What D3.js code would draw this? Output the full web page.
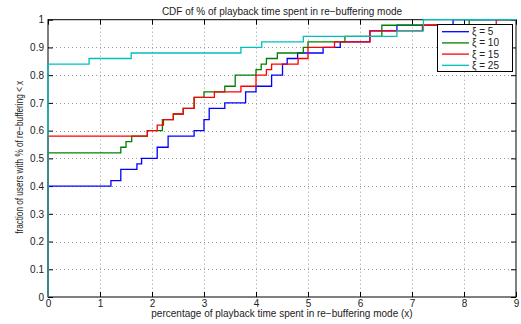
<!DOCTYPE html>
<html>
<head>
<meta charset="utf-8">
<script src="https://cdn.jsdelivr.net/npm/d3@7"></script>
<style>
  body { margin: 0; background: #fff; }
  svg { font-family: 'Liberation Sans', Arial, sans-serif; font-size: 10px; }
</style>
</head>
<body>
<div id="chart"></div>
<script>
const WIDTH = 521;
const HEIGHT = 324;
const MARGIN = { top: 19.7, right: 5, bottom: 27, left: 48 };

const seriesNames = ['ξ = 5', 'ξ = 10', 'ξ = 15', 'ξ = 25'];
const seriesColors = ['#0000ff', '#008000', '#ff0000', '#00bfbf'];

// step positions (x) and CDF value reached at each step (y)
const xi5X = [0, 1.21, 1.40, 1.71, 1.80, 2.10, 2.31, 2.81, 3.00, 3.10, 3.40, 3.80, 4.00, 4.30, 4.51, 4.60, 4.80, 5.29, 5.62, 6.19, 6.71, 7.79];
const xi5Y = [0.40, 0.42, 0.46, 0.48, 0.50, 0.54, 0.58, 0.60, 0.64, 0.68, 0.70, 0.74, 0.76, 0.80, 0.84, 0.86, 0.88, 0.90, 0.92, 0.96, 0.98, 1.00];

const xi10X = [0, 1.40, 1.50, 1.61, 1.91, 2.20, 2.41, 2.60, 2.81, 3.00, 3.40, 3.60, 4.00, 4.10, 4.20, 4.41, 4.91, 5.00, 5.71, 6.42, 8.10];
const xi10Y = [0.52, 0.54, 0.56, 0.58, 0.60, 0.64, 0.66, 0.68, 0.72, 0.74, 0.76, 0.80, 0.82, 0.84, 0.86, 0.88, 0.90, 0.92, 0.94, 0.98, 1.00];

const xi15X = [0, 1.91, 2.10, 2.22, 2.41, 2.60, 2.81, 3.20, 3.71, 4.00, 4.20, 4.30, 4.81, 5.00, 5.51, 6.19, 7.20, 8.62];
const xi15Y = [0.58, 0.60, 0.62, 0.64, 0.66, 0.68, 0.72, 0.74, 0.76, 0.80, 0.82, 0.84, 0.86, 0.90, 0.92, 0.96, 0.98, 1.00];

const xi25X = [0, 0.79, 1.60, 3.71, 4.11, 4.91, 6.71, 7.22];
const xi25Y = [0.84, 0.86, 0.88, 0.90, 0.92, 0.94, 0.96, 1.00];

const xTicks = [0, 1, 2, 3, 4, 5, 6, 7, 8, 9];
const yTicks = [0, 0.1, 0.2, 0.3, 0.4, 0.5, 0.6, 0.7, 0.8, 0.9, 1];

const titleText = 'CDF of % of playback time spent in re\u2212buffering mode';
const xLabelText = 'percentage of playback time spent in re\u2212buffering mode (x)';
const yLabelText = 'fraction of users with % of re\u2212buffering < x';

const seriesX = [xi5X, xi10X, xi15X, xi25X];
const seriesY = [xi5Y, xi10Y, xi15Y, xi25Y];

const x = d3.scaleLinear().domain([0, 9]).range([MARGIN.left, WIDTH - MARGIN.right]);
const y = d3.scaleLinear().domain([0, 1]).range([HEIGHT - MARGIN.bottom, MARGIN.top]);

const svg = d3
  .select('#chart')
  .append('svg')
  .attr('width', WIDTH)
  .attr('height', HEIGHT);

const [x0, x1] = x.range();
const [y0, y1] = y.range();

// dotted grid
const grid = svg
  .append('g')
  .attr('stroke', '#9a9a9a')
  .attr('stroke-width', 1)
  .attr('stroke-dasharray', '1,3');

grid
  .selectAll('line.gx')
  .data(xTicks.slice(1, -1))
  .join('line')
  .attr('class', 'gx')
  .attr('x1', (d) => Math.round(x(d)) + 0.5)
  .attr('x2', (d) => Math.round(x(d)) + 0.5)
  .attr('y1', y1)
  .attr('y2', y0);

grid
  .selectAll('line.gy')
  .data(yTicks.slice(1, -1))
  .join('line')
  .attr('class', 'gy')
  .attr('x1', x0)
  .attr('x2', x1)
  .attr('y1', (d) => Math.round(y(d)) + 0.5)
  .attr('y2', (d) => Math.round(y(d)) + 0.5);

// axes on all four sides, ticks inward
const tickLen = 5;
const axisBottom = d3.axisBottom(x).tickValues(xTicks).tickSizeInner(-tickLen).tickSizeOuter(0).tickPadding(3);
const axisTop = d3.axisTop(x).tickValues(xTicks).tickSizeInner(-tickLen).tickSizeOuter(0).tickFormat('');
const axisLeft = d3.axisLeft(y).tickValues(yTicks).tickSizeInner(-tickLen).tickSizeOuter(0).tickPadding(4).tickFormat(d3.format('~g'));
const axisRight = d3.axisRight(y).tickValues(yTicks).tickSizeInner(-tickLen).tickSizeOuter(0).tickFormat('');

const styleAxis = (g) => {
  g.select('.domain').remove();
  g.selectAll('line').attr('stroke', '#000');
  g.selectAll('text').attr('fill', '#222').style('font-size', '10px').style('font-family', "'Liberation Sans', Arial, sans-serif");
};

svg.append('g').attr('transform', `translate(0,${y0})`).call(axisBottom).call(styleAxis);
svg.append('g').attr('transform', `translate(0,${y1})`).call(axisTop).call(styleAxis);
svg.append('g').attr('transform', `translate(${x0},0)`).call(axisLeft).call(styleAxis);
svg.append('g').attr('transform', `translate(${x1},0)`).call(axisRight).call(styleAxis);

svg
  .append('rect')
  .attr('x', x0)
  .attr('y', y1)
  .attr('width', x1 - x0)
  .attr('height', y0 - y1)
  .attr('fill', 'none')
  .attr('stroke', '#000')
  .attr('stroke-width', 1);

// CDF step curves
const stepLine = d3
  .line()
  .x((d) => x(d[0]))
  .y((d) => y(d[1]))
  .curve(d3.curveStepAfter);

const curveData = seriesX.map((xs, i) => {
  const pts = [[0, 0]];
  xs.forEach((v, j) => pts.push([v, seriesY[i][j]]));
  pts.push([9, seriesY[i][seriesY[i].length - 1]]);
  return pts;
});

svg
  .append('g')
  .attr('fill', 'none')
  .attr('stroke-width', 1.3)
  .selectAll('path')
  .data(curveData)
  .join('path')
  .attr('stroke', (d, i) => seriesColors[i])
  .attr('d', stepLine);

// title and axis labels
svg
  .append('text')
  .attr('x', (x0 + x1) / 2)
  .attr('y', 15)
  .attr('text-anchor', 'middle')
  .attr('fill', '#222')
  .text(titleText);

svg
  .append('text')
  .attr('x', (x0 + x1) / 2)
  .attr('y', 317)
  .attr('text-anchor', 'middle')
  .attr('fill', '#222')
  .text(xLabelText);

svg
  .append('text')
  .attr('transform', `translate(23,${(y0 + y1) / 2 - 1}) rotate(-90)`)
  .attr('text-anchor', 'middle')
  .attr('fill', '#222')
  .attr('textLength', 153)
  .attr('lengthAdjust', 'spacingAndGlyphs')
  .text(yLabelText);

// legend
const legend = svg.append('g').attr('transform', 'translate(437,24)');

legend
  .append('rect')
  .attr('x', 0.5)
  .attr('y', 0.5)
  .attr('width', 75)
  .attr('height', 47)
  .attr('fill', '#fff')
  .attr('stroke', '#000');

const legendRow = legend
  .selectAll('g.item')
  .data(seriesNames)
  .join('g')
  .attr('class', 'item')
  .attr('transform', (d, i) => `translate(0,${7.7 + i * 11.2})`);

legendRow
  .append('line')
  .attr('x1', 5)
  .attr('x2', 32)
  .attr('stroke-width', 1.3)
  .attr('stroke', (d, i) => seriesColors[i]);

legendRow
  .append('text')
  .attr('x', 35)
  .attr('dy', '0.35em')
  .attr('fill', '#222')
  .text((d) => d);
</script>
</body>
</html>
